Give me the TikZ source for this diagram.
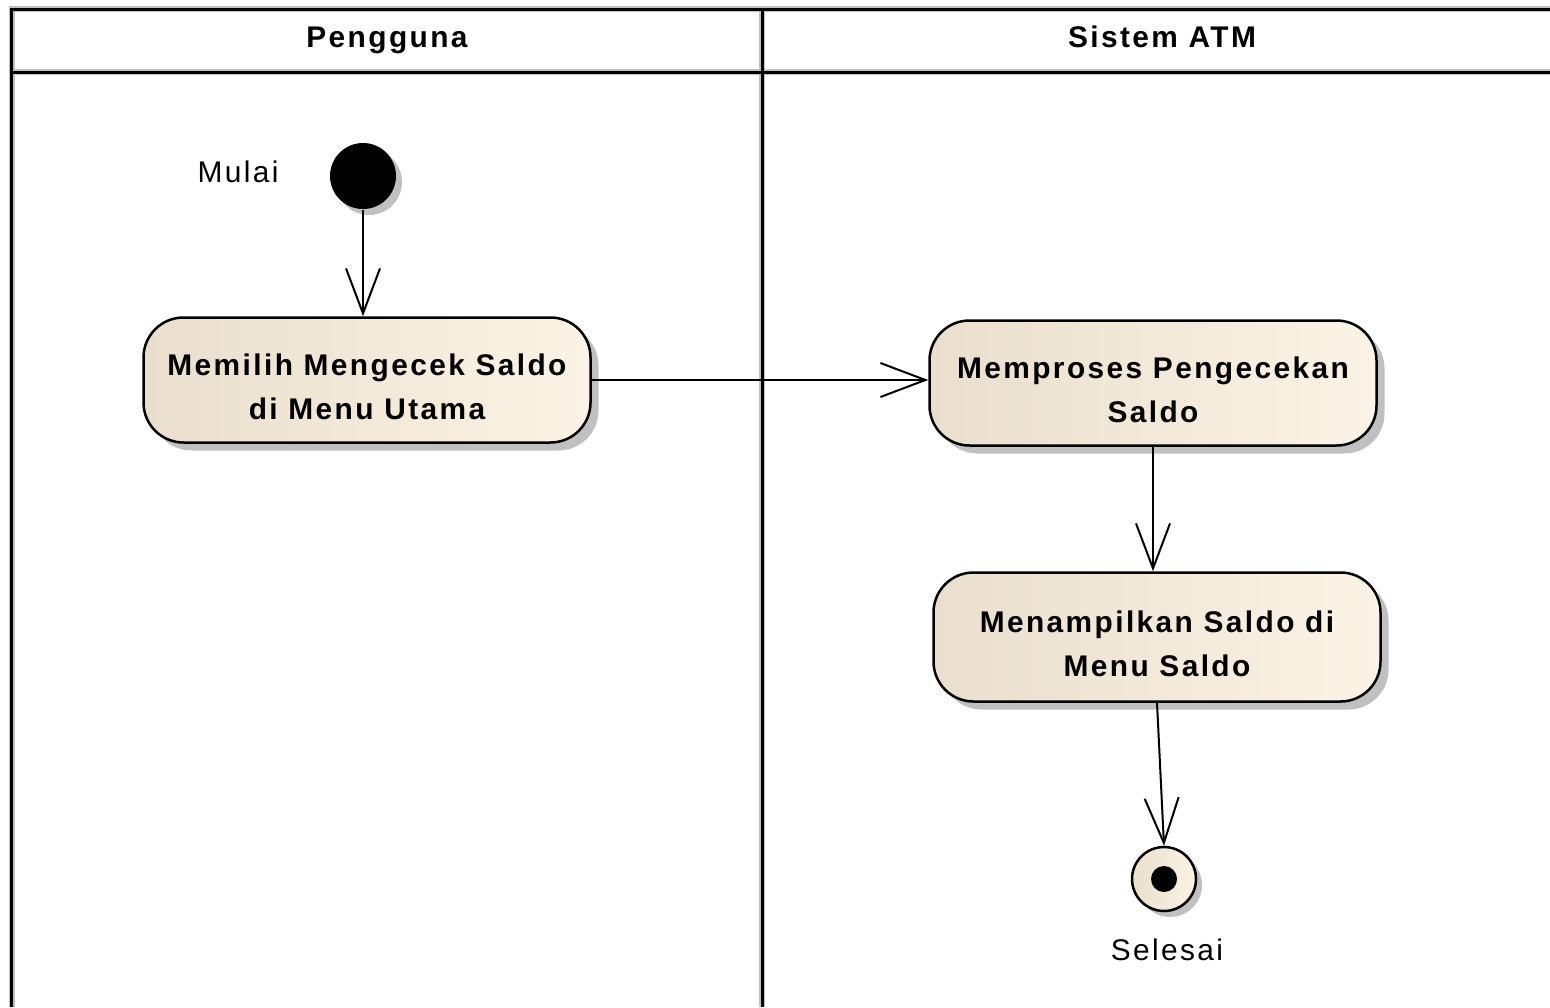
\documentclass[tikz,border=0pt]{standalone}
\usepackage{fontspec}
\setmainfont{Liberation Sans}[LetterSpace=8]
\usetikzlibrary{
	arrows.meta,
	calc,
	positioning,
	shadows,
}
\definecolor{actleft}{RGB}{234,223,206}
\definecolor{actright}{RGB}{251,243,229}
\definecolor{shadowgray}{RGB}{192,192,192}
\tikzset{action node/.style={
	draw,
	rounded corners=0.4cm,
	line width=0.025cm,
	left color=actleft,
	right color=actright,
	minimum width=4.47cm,
	minimum height=1.25cm,
	align=center,
	font=\bfseries\fontsize{8.5}{12.3}\selectfont,
	text height=0.80cm,
	text depth=0.02cm,
	drop shadow={shadow xshift=0.08cm, shadow yshift=-0.08cm, fill=shadowgray, opacity=1},
}}
\tikzset{start node/.style={
	circle,
	fill=black,
	inner sep=0mm,
	minimum size=0.66cm,
	drop shadow={shadow xshift=0.06cm, shadow yshift=-0.06cm, fill=shadowgray, opacity=1},
}}
\tikzset{end node/.style={
	draw,
	circle,
	inner sep=0mm,
	line width=0.025cm,
	minimum size=0.64cm,
	left color=actleft,
	right color=actright,
	drop shadow={shadow xshift=0.06cm, shadow yshift=-0.06cm, fill=shadowgray, opacity=1},
	path picture={\fill (path picture bounding box.center) circle (0.13cm);},
}}
\tikzset{lane title/.style={anchor=base, font=\bfseries\fontsize{8.5}{10}\selectfont}}
\tikzset{plain label/.style={anchor=base, font=\fontsize{8.5}{10}\selectfont}}
\tikzset{flow/.style={-{Straight Barb[length=0.45cm, width=0.34cm]}, line width=0.02cm}}
\tikzset{lane halo/.style={line width=0.065cm, shadowgray}}
\tikzset{lane line/.style={line width=0.03cm, black}}

\begin{document}
\begin{tikzpicture}
\useasboundingbox (0,0) rectangle (15.5,-10.07);

% swimlanes
\foreach \s in {lane halo, lane line} {
\draw[\s] (0.12,-10.07) -- (0.12,-0.09) -- (15.5,-0.09);
\draw[\s] (0.12,-0.72) -- (15.5,-0.72);
\draw[\s] (7.62,-0.09) -- (7.62,-10.07);
}
\node(lane1)[lane title] at (3.87,-0.47) {Pengguna};
\node(lane2)[lane title] at (11.62,-0.47) {Sistem ATM};

\node(start)[start node] at (3.63,-1.76) {};
\node(mulai)[plain label] at (2.38,-1.82) {Mulai};

\node(act1)[action node] at (3.67,-3.80) {Memilih Mengecek Saldo\\di Menu Utama};
\node(act2)[action node] at (11.53,-3.83) {Memproses Pengecekan\\Saldo};
\node(act3)[action node, minimum height=1.29cm] at (11.57,-6.37) {Menampilkan Saldo di\\Menu Saldo};

\node(end)[end node] at (11.64,-8.79) {};
\node(selesai)[plain label] at (11.67,-9.60) {Selesai};

\draw[flow] (start) -- (start |- act1.north);
\draw[flow] (act1.east) -- (act1.east -| act2.west);
\draw[flow] (act2) -- (act2 |- act3.north);
\draw[flow] (act3.south) -- (end.north);

\end{tikzpicture}
\end{document}
